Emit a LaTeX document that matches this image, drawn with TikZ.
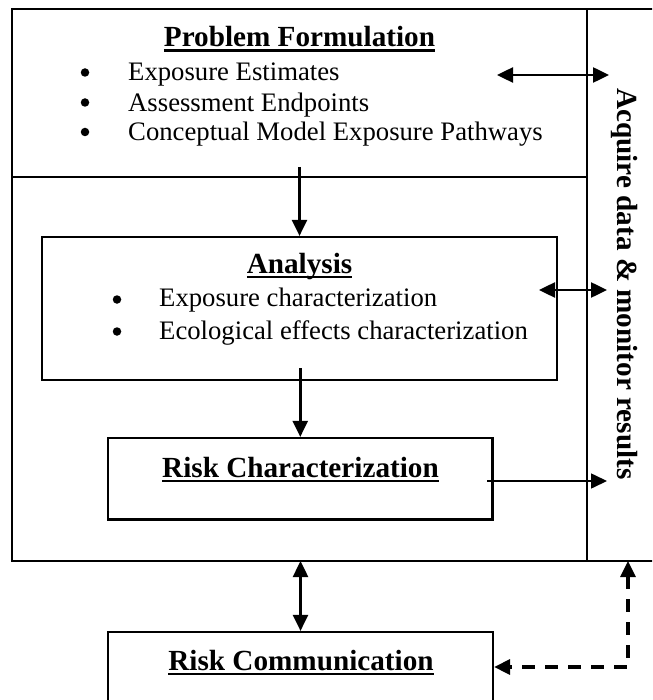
\documentclass[tikz,border=0pt]{standalone}
\usepackage{fontspec}
\setmainfont{Liberation Serif}
\usetikzlibrary{arrows.meta, positioning}

\newsavebox{\ulbox}
\newcommand{\undl}[1]{\sbox{\ulbox}{#1}\rlap{\rule[-5pt]{\wd\ulbox}{2.2pt}}\usebox{\ulbox}}

\begin{document}
\begin{tikzpicture}[
  x=1pt, y=-1pt,
  frame/.style={draw, line width=2.4pt},
  box/.style={draw, rectangle, line width=2.2pt, inner sep=0pt},
  head/.style={inner sep=0pt, anchor=base, font=\fontsize{29.2}{33}\selectfont\bfseries},
  item/.style={inner sep=0pt, anchor=base west, font=\fontsize{26.7}{30}\selectfont},
  dot/.style={circle, fill, inner sep=0pt, minimum size=8.5pt},
  link/.style={line width=2.5pt, -{Triangle[length=16pt,width=15pt]}},
  both/.style={line width=2.5pt, {Triangle[length=16pt,width=15pt]}-{Triangle[length=16pt,width=15pt]}},
  >={Triangle[length=16pt,width=15pt]}
]
\useasboundingbox (0,0) rectangle (652,700);
\clip (0,0) rectangle (652,700);

% Frame
\draw[frame] (12,9) rectangle (720,561);
\draw[line width=2.4pt] (12,177) -- (587,177);
\draw[line width=1.9pt] (587,9) -- (587,561);

% Nodes
\node[head] (pftitle) at (299.5,46.7) {\undl{Problem Formulation}};
\node[item] (pfone) at (128,81) {Exposure Estimates};
\node[item] (pftwo) at (128,111.5) {Assessment Endpoints};
\node[item] (pfthree) at (128,141) {Conceptual Model Exposure Pathways};
\node[dot] (pfdotone) at (85,72.5) {};
\node[dot] (pfdottwo) at (85,102.5) {};
\node[dot] (pfdotthree) at (85,132) {};

\node[box, minimum width=515, minimum height=143] (analysis) at (299.5,308.5) {};
\node[head] (antitle) at (299.5,273) {\undl{Analysis}};
\node[item] (anone) at (159,306.7) {Exposure characterization};
\node[item] (antwo) at (159,339) {Ecological effects characterization};
\node[dot] (andotone) at (117,299.5) {};
\node[dot] (andottwo) at (117,331.5) {};

\node[box, minimum width=384.5, minimum height=81.5] (riskchar) at (300.25,478.75) {};
\node[head] (rctitle) at (300.5,477) {\undl{Risk Characterization}};

\node[box, minimum width=385, minimum height=100] (riskcomm) at (300.5,682) {};
\node[head] (rmtitle) at (301,670) {\undl{Risk Communication}};

\node[head, rotate=-90] (acquire) at (617,284) {Acquire data \& monitor results};

% Connections
\coordinate (pfdown) at (299.5,167);
\coordinate (andown) at (300.25,368);
\coordinate (pfleft) at (497,75);
\coordinate (pfright) at (609,75);
\coordinate (anleft) at (539,290);
\coordinate (anright) at (607,290);
\coordinate (rcstart) at (487,481);
\coordinate (rcend) at (607,481);
\coordinate (framebot) at (300.5,561);
\coordinate (dtop) at (628,561);
\coordinate (dcorner) at (628,667);

\draw[link] (pfdown) -- (analysis.north);
\draw[link] (andown) -- (riskchar.north);
\draw[both] (pfleft) -- (pfright);
\draw[both] (anleft) -- (anright);
\draw[line width=1.6pt, ->] (rcstart) -- (rcend);
\draw[both] (framebot) -- (riskcomm.north);
\draw[both, line width=3.2pt, dash pattern=on 13pt off 10pt] (dtop) -- (dcorner) -- (dcorner -| riskcomm.east);

\end{tikzpicture}
\end{document}
